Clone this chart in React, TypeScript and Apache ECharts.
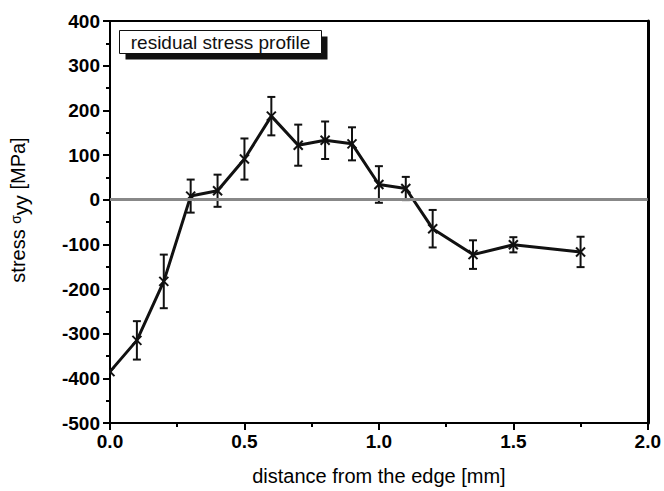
import React, { useEffect, useRef } from "react";
import * as echarts from "echarts";

// Distance from the edge [mm]
const distance = [0, 0.1, 0.2, 0.3, 0.4, 0.5, 0.6, 0.7, 0.8, 0.9, 1.0, 1.1, 1.2, 1.35, 1.5, 1.75];
// Residual stress σyy [MPa]
const stress = [-385, -315, -183, 8, 20, 91, 187, 122, 133, 125, 34, 25, -65, -123, -101, -117];
// Half-width of the error bars [MPa]
const stressErr = [0, 43, 60, 37, 36, 46, 43, 46, 42, 37, 41, 26, 42, 32, 17, 34];

const legendText = "residual stress profile";
const xTitle = "distance from the edge [mm]";

const INK = "#000000";
const FONT = "'Liberation Sans', Arial, sans-serif";

export default function App() {
  const ref = useRef<HTMLDivElement>(null);

  useEffect(() => {
    if (!ref.current) return;
    const chart = echarts.init(ref.current, undefined, { renderer: "svg" });

    const points = distance.map((d, i) => [d, stress[i], stressErr[i]]);
    const linePts = distance.map((d, i) => [d, stress[i]]);

    chart.setOption({
      animation: false,
      backgroundColor: "#ffffff",
      grid: { left: 107, right: 13, top: 21, bottom: 66, containLabel: false },
      xAxis: [
        {
          type: "value",
          min: 0,
          max: 2,
          interval: 0.5,
          position: "bottom",
          name: xTitle,
          nameLocation: "middle",
          nameGap: 43,
          nameTextStyle: { fontFamily: FONT, fontSize: 20, color: INK },
          axisLine: { show: true, onZero: false, lineStyle: { color: INK, width: 2 } },
          axisTick: { show: true, length: 7, lineStyle: { color: INK, width: 2 } },
          minorTick: { show: true, splitNumber: 2, length: 4, lineStyle: { color: INK, width: 2 } },
          axisLabel: {
            fontFamily: FONT,
            fontSize: 19,
            fontWeight: "bold",
            color: INK,
            margin: 9,
            formatter: (v: number) => v.toFixed(1),
          },
          splitLine: { show: false },
        },
        {
          type: "value",
          min: 0,
          max: 2,
          position: "top",
          axisLine: { show: true, onZero: false, lineStyle: { color: INK, width: 2 } },
          axisTick: { show: false },
          axisLabel: { show: false },
          splitLine: { show: false },
        },
      ],
      yAxis: [
        {
          type: "value",
          min: -500,
          max: 400,
          interval: 100,
          position: "left",
          name: "{a|stress }{s|σ}{b|yy}{a| [MPa]}",
          nameLocation: "middle",
          nameGap: 79,
          nameTextStyle: {
            padding: [0, 0, 0, 24],
            rich: {
              a: { fontFamily: FONT, fontSize: 20, color: INK },
              s: { fontFamily: FONT, fontSize: 14, color: INK, padding: [0, 0, 4, 0] },
              b: { fontFamily: FONT, fontSize: 20, color: INK, padding: [6, 0, 0, 0] },
            },
          },
          axisLine: { show: true, onZero: false, lineStyle: { color: INK, width: 2 } },
          axisTick: { show: true, length: 7, lineStyle: { color: INK, width: 2 } },
          minorTick: { show: true, splitNumber: 2, length: 4, lineStyle: { color: INK, width: 2 } },
          axisLabel: {
            fontFamily: FONT,
            fontSize: 19,
            fontWeight: "bold",
            color: INK,
            margin: 10,
          },
          splitLine: { show: false },
        },
        {
          type: "value",
          min: -500,
          max: 400,
          position: "right",
          axisLine: { show: true, onZero: false, lineStyle: { color: INK, width: 3 } },
          axisTick: { show: false },
          axisLabel: { show: false },
          splitLine: { show: false },
        },
      ],
      series: [
        {
          // zero reference line
          type: "line",
          data: [],
          z: 1,
          markLine: {
            silent: true,
            symbol: "none",
            label: { show: false },
            lineStyle: { color: "#888888", width: 3, type: "solid" },
            data: [{ yAxis: 0 }],
          },
        },
        {
          type: "line",
          data: linePts,
          z: 2,
          showSymbol: false,
          symbol: "none",
          clip: true,
          lineStyle: { color: "#111111", width: 3 },
        },
        {
          type: "custom",
          z: 3,
          clip: true,
          data: points,
          renderItem: (params: any, api: any) => {
            const x = api.value(0);
            const y = api.value(1);
            const e = api.value(2);
            const c = api.coord([x, y]);
            const style = { stroke: "#111111", lineWidth: 2, fill: "none" };
            const children: any[] = [];
            if (e > 0) {
              const top = api.coord([x, y + e]);
              const bot = api.coord([x, y - e]);
              const cap = 4;
              children.push(
                { type: "line", shape: { x1: c[0], y1: top[1], x2: c[0], y2: bot[1] }, style },
                { type: "line", shape: { x1: c[0] - cap, y1: top[1], x2: c[0] + cap, y2: top[1] }, style },
                { type: "line", shape: { x1: c[0] - cap, y1: bot[1], x2: c[0] + cap, y2: bot[1] }, style }
              );
            }
            const m = 4.5;
            children.push(
              { type: "line", shape: { x1: c[0] - m, y1: c[1] - m, x2: c[0] + m, y2: c[1] + m }, style },
              { type: "line", shape: { x1: c[0] - m, y1: c[1] + m, x2: c[0] + m, y2: c[1] - m }, style }
            );
            return { type: "group", children };
          },
        },
      ],
      graphic: [
        {
          type: "group",
          left: 119,
          top: 30,
          children: [
            { type: "rect", shape: { x: 6, y: 6, width: 202, height: 23 }, style: { fill: "#111111" } },
            {
              type: "rect",
              shape: { x: 0, y: 0, width: 202, height: 23 },
              style: { fill: "#ffffff", stroke: "#111111", lineWidth: 1 },
            },
            {
              type: "text",
              x: 101,
              y: 12,
              style: {
                text: legendText,
                fontFamily: FONT,
                fontSize: 19,
                fill: "#111111",
                align: "center",
                verticalAlign: "middle",
              },
            },
          ],
        },
      ],
    });

    return () => chart.dispose();
  }, []);

  return <div ref={ref} style={{ width: 664, height: 491, position: "absolute", left: 0, top: 0 }} />;
}
